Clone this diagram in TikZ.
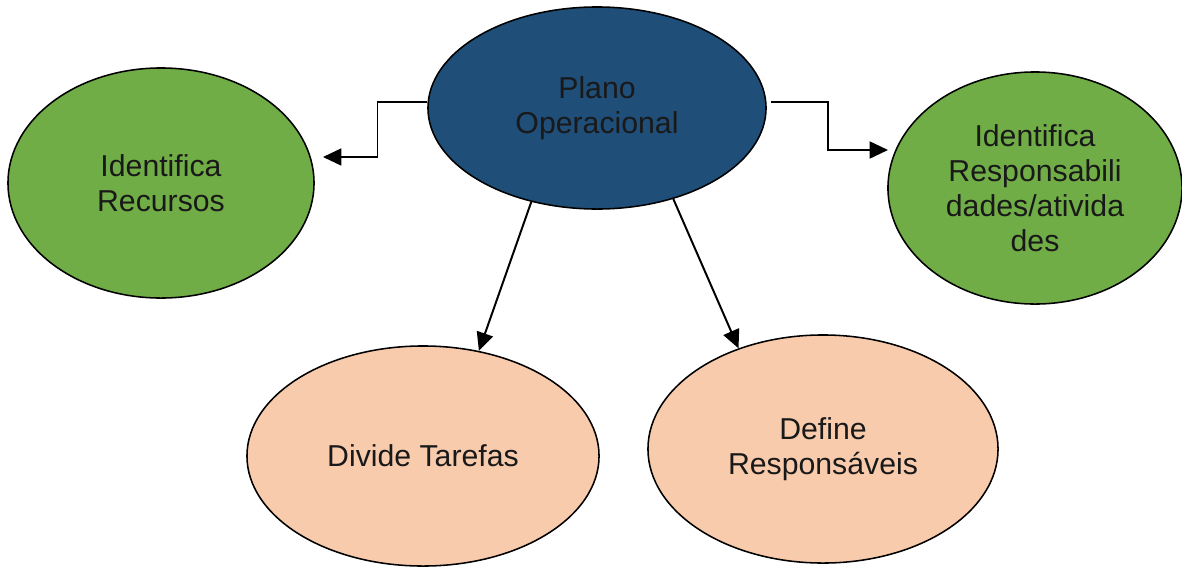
\documentclass[tikz,border=0pt]{standalone}
\usepackage{fontspec}
\setmainfont{Liberation Sans}
\usetikzlibrary{
    arrows.meta,
    shapes.geometric
}
\definecolor{planoblue}{HTML}{1F4E79}
\definecolor{leafgreen}{HTML}{70AD47}
\definecolor{peach}{HTML}{F8CBAD}

\begin{document}
\begin{tikzpicture}[x=0.025cm, y=-0.025cm,
    bubble/.style={ellipse, draw, line width=1.1pt, align=center, inner sep=0pt, text=black!90, font=\fontsize{21.5}{25}\selectfont},
    link/.style={line width=1.4pt, -{Triangle[length=13pt, width=12pt]}}]
    \useasboundingbox (0,0) rectangle (1182,566);
    \node (plano) [bubble, fill=planoblue, minimum width=8.45cm, minimum height=5.05cm] at (597,108) {Plano\\Operacional};
    \node (recursos) [bubble, fill=leafgreen, minimum width=7.65cm, minimum height=5.75cm] at (161,183) {Identifica\\Recursos};
    \node (resp) [bubble, fill=leafgreen, minimum width=7.35cm, minimum height=5.8cm] at (1035,188) {Identifica\\Responsabili\\dades/ativida\\des};
    \node (tarefas) [bubble, fill=peach, minimum width=8.8cm, minimum height=5.5cm] at (423,456) {Divide Tarefas};
    \node (define) [bubble, fill=peach, minimum width=8.75cm, minimum height=5.7cm] at (823,449) {Define\\Responsáveis};
    \coordinate (recin) at (323,157);
    \coordinate (respin) at (888,150);
    \draw[link] (plano.178) -- ++(-50,0) |- (recin);
    \draw[link] ([xshift=3.5pt]plano.2) -- ++(57,0) |- (respin);
    \draw[link] (plano.235) -- (tarefas.62);
    \draw[link] (plano.310) -- (define.130);
\end{tikzpicture}
\end{document}
